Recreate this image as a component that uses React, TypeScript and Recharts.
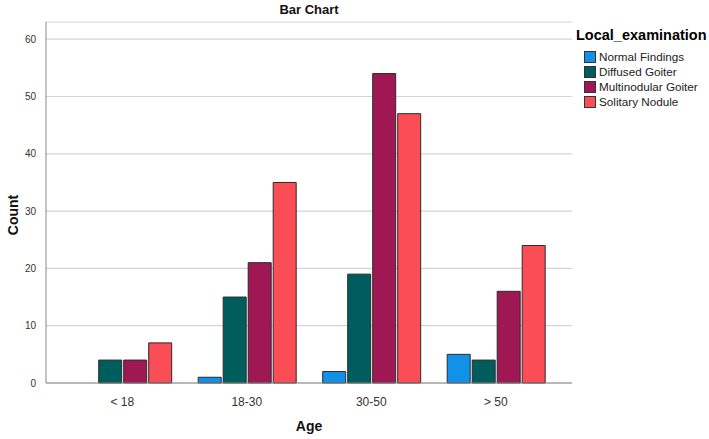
import { Bar, BarChart, CartesianGrid, XAxis, YAxis } from "recharts";

const ageGroups = ["< 18", "18-30", "30-50", "> 50"];
const normalFindings = [0, 1, 2, 5];
const diffusedGoiter = [4, 15, 19, 4];
const multinodularGoiter = [4, 21, 54, 16];
const solitaryNodule = [7, 35, 47, 24];
const yTicks = [0, 10, 20, 30, 40, 50, 60];

const series = [
  { key: "normal", name: "Normal Findings", color: "#1192e8" },
  { key: "diffused", name: "Diffused Goiter", color: "#005d5d" },
  { key: "multinodular", name: "Multinodular Goiter", color: "#9f1853" },
  { key: "solitary", name: "Solitary Nodule", color: "#fa4d56" },
];

const data = ageGroups.map((age, i) => ({
  age,
  normal: normalFindings[i],
  diffused: diffusedGoiter[i],
  multinodular: multinodularGoiter[i],
  solitary: solitaryNodule[i],
}));

const font = "'Liberation Sans', Arial, sans-serif";

function SideLegend() {
  return (
    <div style={{ position: "absolute", left: 576, top: 27, fontFamily: font, color: "#000" }}>
      <div style={{ fontWeight: "bold", fontSize: 14.5, marginBottom: 6 }}>Local_examination</div>
      {series.map((s) => (
        <div key={s.key} style={{ display: "flex", alignItems: "center", height: 15, marginLeft: 8 }}>
          <span
            style={{
              width: 10,
              height: 10,
              background: s.color,
              border: "1px solid #333",
              marginRight: 3,
              display: "inline-block",
            }}
          />
          <span style={{ fontSize: 11.7, color: "#222" }}>{s.name}</span>
        </div>
      ))}
    </div>
  );
}

export default function App() {
  return (
    <div style={{ position: "absolute", left: 0, top: 0, width: 709, height: 439, background: "#fff", fontFamily: font }}>
      <div
        style={{
          position: "absolute",
          left: 46,
          width: 526,
          top: 2,
          textAlign: "center",
          fontWeight: "bold",
          fontSize: 13,
          color: "#111",
        }}
      >
        Bar Chart
      </div>
      <div
        style={{
          position: "absolute",
          left: 46,
          width: 526,
          top: 418,
          textAlign: "center",
          fontWeight: "bold",
          fontSize: 14,
          color: "#111",
        }}
      >
        Age
      </div>
      <div
        style={{
          position: "absolute",
          left: 13,
          top: 215,
          transform: "translate(-50%, -50%) rotate(-90deg)",
          fontWeight: "bold",
          fontSize: 14,
          color: "#111",
        }}
      >
        Count
      </div>
      <BarChart
        width={709}
        height={439}
        data={data}
        margin={{ top: 22, right: 137, bottom: 0, left: 0 }}
        barCategoryGap="11%"
        barGap={2}
      >
        <CartesianGrid vertical={false} stroke="#d4d4d4" strokeWidth={1.2} />
        <XAxis
          dataKey="age"
          padding={{ left: 14, right: 14 }}
          tickLine={false}
          axisLine={{ stroke: "#888" }}
          tick={{ fontSize: 12, fill: "#333", fontFamily: font }}
          tickMargin={8}
          height={56}
        />
        <YAxis
          domain={[0, 63]}
          ticks={yTicks}
          tickLine={false}
          axisLine={{ stroke: "#888" }}
          tick={{ fontSize: 10, fill: "#333", fontFamily: font }}
          width={46}
          tickMargin={4}
          interval={0}
        />
        {series.map((s) => (
          <Bar
            key={s.key}
            dataKey={s.key}
            name={s.name}
            fill={s.color}
            stroke="#2a2a2a"
            strokeWidth={1}
            isAnimationActive={false}
          />
        ))}
      </BarChart>
      <SideLegend />
    </div>
  );
}
